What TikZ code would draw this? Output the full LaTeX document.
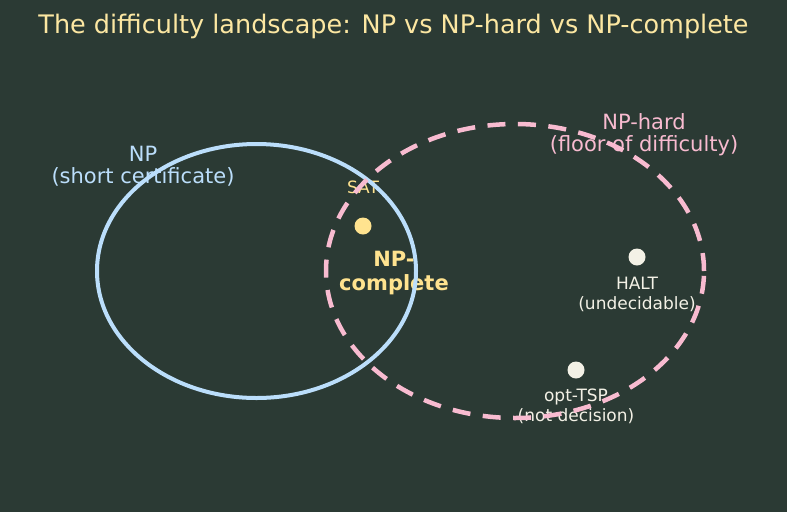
\documentclass[tikz,border=0pt]{standalone}
\usepackage{fontspec}
\setmainfont{DejaVu Sans}
\usetikzlibrary{positioning}
\definecolor{bgcol}{HTML}{2B3A34}
\definecolor{titlecol}{HTML}{FCE7A2}
\definecolor{npcol}{HTML}{BBDEFB}
\definecolor{hardcol}{HTML}{F8BBD0}
\definecolor{satcol}{HTML}{FFE38F}
\definecolor{dotcol}{HTML}{F3F1E6}
\tikzset{
	biglabel/.style={align=center, font=\fontsize{21}{22}\selectfont, inner sep=0pt},
	smalllabel/.style={align=center, font=\fontsize{17}{20}\selectfont, inner sep=0pt},
	dot/.style={circle, inner sep=0pt, minimum size=17pt}
}
\newcommand{\problem}[4]{
	\node[dot, fill=#4] (prob_#1) at (#2,-#3) {};
}

\begin{document}
\begin{tikzpicture}[x=1pt,y=1pt]
		\fill[bgcol] (0,0) rectangle (787,-512);
		\useasboundingbox (0,0) rectangle (787,-512);
		\node[font=\fontsize{25.5}{30}\selectfont, text=titlecol] (title) at (393.5,-26) {The difficulty landscape: NP vs NP-hard vs NP-complete};
		
		\node[biglabel, text=npcol] (np_lbl) at (143,-166) {NP\\(short certificate)};
		\node[biglabel, text=hardcol] (hard_lbl) at (644,-135) {NP-hard\\(floor of difficulty)};
		\node[smalllabel, text=satcol] (sat_lbl) at (363,-187) {SAT};
		\node[biglabel, font=\fontsize{21}{24}\bfseries, text=satcol] (npc_lbl) at (394,-273) {NP-\\complete};
		\node[smalllabel, text=dotcol] (halt_lbl) at (637,-294) {HALT\\(undecidable)};
		\node[smalllabel, text=dotcol] (tsp_lbl) at (576,-406) {opt-TSP\\(not decision)};
		
		% the two classes
		\draw[npcol, line width=4pt] (256.5,-271) ellipse [x radius=159.5pt, y radius=127pt];
		\draw[hardcol, line width=4.5pt, dash pattern=on 18pt off 12.5pt] (515,-271) ellipse [x radius=189pt, y radius=147pt];
		
		\problem{sat}{363}{226}{satcol};
		\problem{halt}{637}{257}{dotcol};
		\problem{tsp}{576}{370}{dotcol};
	\end{tikzpicture}
\end{document}
